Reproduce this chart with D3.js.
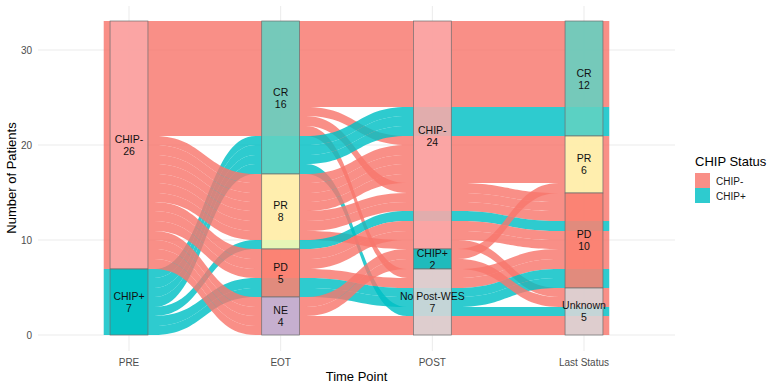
<!DOCTYPE html>
<html>
<head>
<meta charset="utf-8">
<script src="https://cdn.jsdelivr.net/npm/d3@7"></script>
<style>
  body { margin: 0; background: #fff; }
  text { font-family: "Liberation Sans", Arial, sans-serif; }
</style>
</head>
<body>
<svg width="771" height="388"></svg>
<script>
const timePoints = ["PRE", "EOT", "POST", "Last Status"]
const preLevels = ["CHIP-", "CHIP+"]
const eotLevels = ["CR", "PR", "PD", "NE"]
const postLevels = ["CHIP-", "CHIP+", "No Post-WES"]
const lastLevels = ["CR", "PR", "PD", "Unknown"]
const yTicks = [0, 10, 20, 30]

// each path through the 4 time points, and how many patients follow it
const pathPre   = ["CHIP-","CHIP-","CHIP-","CHIP-","CHIP+","CHIP+","CHIP-","CHIP-","CHIP-","CHIP+","CHIP-","CHIP-","CHIP+","CHIP-","CHIP-","CHIP-"]
const pathEot   = ["CR","CR","CR","CR","CR","CR","PR","PR","PR","PR","PD","PD","PD","NE","NE","NE"]
const pathPost  = ["CHIP-","CHIP-","CHIP-","No Post-WES","CHIP-","No Post-WES","CHIP-","CHIP-","CHIP-","CHIP-","CHIP-","No Post-WES","No Post-WES","CHIP+","CHIP+","No Post-WES"]
const pathLast  = ["CR","PR","PD","PD","CR","Unknown","PR","PD","Unknown","PD","PD","PD","PD","PR","Unknown","Unknown"]
const pathCount = [9,1,1,1,3,1,4,2,1,1,2,1,2,1,1,2]

const levels = [preLevels, eotLevels, postLevels, lastLevels]
const chipColor = { "CHIP-": "#F8766D", "CHIP+": "#00BFC4" }
const stratumColor = {
  "CHIP-": "#FBA8A8", "CHIP+": "#00C2C4",
  "CR": "#62D2C2", "PR": "#FFFCB4", "PD": "#FA8272", "NE": "#BEB4DA",
  "No Post-WES": "#DAD6D8", "Unknown": "#DAD6D8"
}

const svg = d3.select("svg")

const x = d3.scalePoint().domain(timePoints).range([38, 675]).padding(0.6)
const y = d3.scaleLinear().domain([0, 30]).rangeRound([335, 50])
const step = x.step()
const flowHalf = step / 6     // alluvium width 1/3
const boxHalf = step / 8      // stratum width 1/4

// one row per patient
let patients = []
pathCount.forEach((n, k) => {
  const path = [pathPre[k], pathEot[k], pathPost[k], pathLast[k]]
  for (let c = 0; c < n; c++) {
    patients.push({ chip: pathPre[k], idx: path.map((s, i) => levels[i].indexOf(s)), top: [], bot: [] })
  }
})
const total = patients.length

// lode order: zigzag outward from each axis, nearer end first
function zigzag(i, n) {
  const order = [i]
  let l = i - 1, r = i + 1
  let leftFirst = i <= n - 1 - i
  while (l >= 0 || r < n) {
    if (leftFirst) { if (l >= 0) order.push(l--); if (r < n) order.push(r++) }
    else { if (r < n) order.push(r++); if (l >= 0) order.push(l--) }
  }
  return order
}

timePoints.forEach((t, i) => {
  const ord = zigzag(i, timePoints.length)
  const sorted = patients.slice().sort((a, b) => {
    for (const j of ord) if (a.idx[j] !== b.idx[j]) return a.idx[j] - b.idx[j]
    return 0
  })
  let cum = total
  sorted.forEach(p => { p.top[i] = cum; p.bot[i] = cum - 1; cum -= 1 })
})

// strata boxes
let strata = []
levels.forEach((lv, i) => {
  let cum = total
  lv.forEach((name, j) => {
    const n = patients.filter(p => p.idx[i] === j).length
    strata.push({ axis: timePoints[i], name: name, n: n, top: cum, bot: cum - n })
    cum -= n
  })
})

// grid
svg.append("g").selectAll("line").data(yTicks).enter().append("line")
  .attr("x1", 38).attr("x2", 675)
  .attr("y1", d => y(d)).attr("y2", d => y(d))
  .attr("stroke", "#EBEBEB").attr("stroke-width", 1)
svg.append("g").selectAll("line").data(timePoints).enter().append("line")
  .attr("x1", d => x(d)).attr("x2", d => x(d))
  .attr("y1", 6).attr("y2", 351)
  .attr("stroke", "#EBEBEB").attr("stroke-width", 1)

function ribbon(p) {
  const xs = timePoints.map(t => x(t))
  const path = d3.path()
  path.moveTo(xs[0] - flowHalf, y(p.top[0]))
  for (let i = 0; i < xs.length; i++) {
    path.lineTo(xs[i] + flowHalf, y(p.top[i]))
    if (i < xs.length - 1) {
      const mx = (xs[i] + xs[i + 1]) / 2
      path.bezierCurveTo(mx, y(p.top[i]), mx, y(p.top[i + 1]), xs[i + 1] - flowHalf, y(p.top[i + 1]))
    }
  }
  for (let i = xs.length - 1; i >= 0; i--) {
    path.lineTo(xs[i] + flowHalf, y(p.bot[i]))
    path.lineTo(xs[i] - flowHalf, y(p.bot[i]))
    if (i > 0) {
      const mx = (xs[i] + xs[i - 1]) / 2
      path.bezierCurveTo(mx, y(p.bot[i]), mx, y(p.bot[i - 1]), xs[i - 1] + flowHalf, y(p.bot[i - 1]))
    }
  }
  path.closePath()
  return path.toString()
}

svg.append("g").selectAll("path").data(patients).enter().append("path")
  .attr("d", ribbon)
  .attr("fill", d => chipColor[d.chip])
  .attr("fill-opacity", 0.82)

const boxes = svg.append("g").selectAll("g").data(strata).enter().append("g")
boxes.append("rect")
  .attr("x", d => x(d.axis) - boxHalf)
  .attr("y", d => y(d.top))
  .attr("width", boxHalf * 2)
  .attr("height", d => y(d.bot) - y(d.top))
  .attr("fill", d => stratumColor[d.name])
  .attr("fill-opacity", 0.88)
  .attr("stroke", "#6E6E6E")
  .attr("stroke-width", 0.7)
const labels = boxes.append("text")
  .attr("text-anchor", "middle")
  .attr("font-size", 10.5)
  .attr("fill", "#111")
labels.append("tspan")
  .attr("x", d => x(d.axis))
  .attr("y", d => y((d.top + d.bot) / 2) - 2.3)
  .text(d => d.name)
labels.append("tspan")
  .attr("x", d => x(d.axis))
  .attr("y", d => y((d.top + d.bot) / 2) + 9.9)
  .text(d => d.n)

// axes text
svg.append("g").selectAll("text").data(yTicks).enter().append("text")
  .attr("x", 32).attr("y", d => y(d) + 3.6)
  .attr("text-anchor", "end").attr("font-size", 10).attr("fill", "#4D4D4D")
  .text(d => d)
svg.append("g").selectAll("text").data(timePoints).enter().append("text")
  .attr("x", d => x(d)).attr("y", 366)
  .attr("text-anchor", "middle").attr("font-size", 10).attr("fill", "#4D4D4D")
  .text(d => d)
svg.append("text")
  .attr("x", 356.5).attr("y", 381)
  .attr("text-anchor", "middle").attr("font-size", 13).attr("fill", "#000")
  .text("Time Point")
svg.append("text")
  .attr("transform", "translate(16,178) rotate(-90)")
  .attr("text-anchor", "middle").attr("font-size", 13).attr("fill", "#000")
  .text("Number of Patients")

// legend
const legend = svg.append("g").attr("transform", "translate(695,0)")
legend.append("text").attr("x", 0).attr("y", 166).attr("font-size", 13).text("CHIP Status")
const keys = legend.selectAll("g.key").data(preLevels).enter().append("g").attr("class", "key")
keys.append("rect")
  .attr("x", 0).attr("y", (d, i) => 173 + i * 15)
  .attr("width", 15).attr("height", 15)
  .attr("fill", d => chipColor[d]).attr("fill-opacity", 0.82)
keys.append("text")
  .attr("x", 21).attr("y", (d, i) => 184.5 + i * 15)
  .attr("font-size", 10).attr("fill", "#1A1A1A")
  .text(d => d)
</script>
</body>
</html>
